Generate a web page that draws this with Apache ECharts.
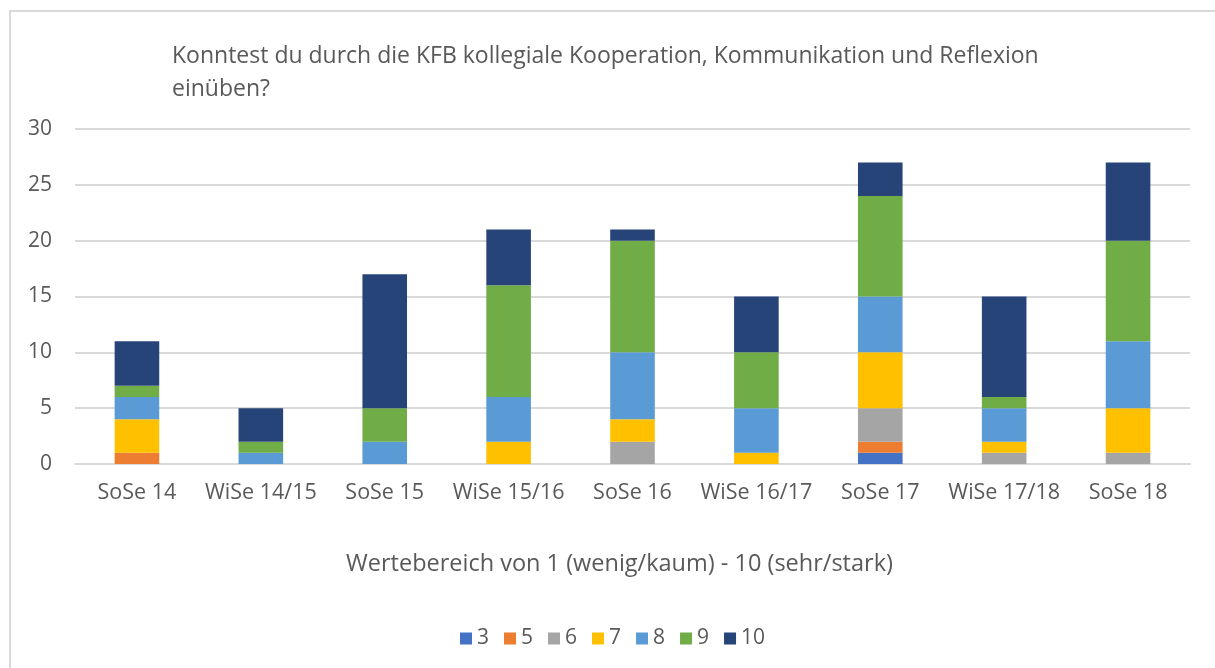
<!DOCTYPE html>
<html><head><meta charset="utf-8">
<script src="https://cdn.jsdelivr.net/npm/echarts@6/dist/echarts.min.js"></script>
<style>
html,body{margin:0;padding:0;background:#fff;overflow:hidden}
#frame{position:absolute;left:9px;top:10px;width:1230px;height:680px;border:2px solid #d9d9d9;box-sizing:border-box}
#c{position:absolute;left:0;top:0;width:1215px;height:668px}
</style></head><body>
<div id="frame"></div>
<div id="c"></div>
<script>
const titleText = 'Konntest du durch die KFB kollegiale Kooperation, Kommunikation und Reflexion\neinüben?';
const xName = 'Wertebereich von 1 (wenig/kaum) - 10 (sehr/stark)';
const categories = ['SoSe 14','WiSe 14/15','SoSe 15','WiSe 15/16','SoSe 16','WiSe 16/17','SoSe 17','WiSe 17/18','SoSe 18'];
const seriesNames = ['3','5','6','7','8','9','10'];
const v3  = [0,0,0,0,0,0,1,0,0];
const v5  = [1,0,0,0,0,0,1,0,0];
const v6  = [0,0,0,0,2,0,3,1,1];
const v7  = [3,0,0,2,2,1,5,1,4];
const v8  = [2,1,2,4,6,4,5,3,6];
const v9  = [1,1,3,10,10,5,9,1,9];
const v10 = [4,3,12,5,1,5,3,9,7];
const colors = ['#4472c4','#ed7d31','#a5a5a5','#ffc000','#5b9bd5','#70ad47','#264478'];
const values = [v3,v5,v6,v7,v8,v9,v10];
const font = 'Open Sans';
const chart = echarts.init(document.getElementById('c'));
chart.setOption({
  animation:false,
  color:colors,
  title:{text:titleText,left:167,top:35,textStyle:{fontFamily:font,fontSize:23,fontWeight:'normal',color:'#595959',lineHeight:33}},
  grid:{left:75,right:25,top:129,bottom:204},
  legend:{bottom:14,left:455,itemWidth:12,itemHeight:12,itemGap:15,icon:'rect',
    textStyle:{fontFamily:font,fontSize:21,color:'#595959'}},
  xAxis:{type:'category',data:categories,name:xName,nameLocation:'middle',nameGap:88,
    nameTextStyle:{fontFamily:font,fontSize:23.5,color:'#595959',padding:[0,26,0,0]},
    axisLine:{lineStyle:{color:'#d9d9d9',width:2}},axisTick:{show:false},
    axisLabel:{fontFamily:font,fontSize:21.5,color:'#595959',margin:18,interval:0}},
  yAxis:{type:'value',min:0,max:30,interval:5,
    axisLabel:{fontFamily:font,fontSize:21,color:'#595959',margin:23},
    splitLine:{lineStyle:{color:'#d9d9d9',width:2}},axisLine:{show:false}},
  series:seriesNames.map((n,i)=>({name:n,type:'bar',stack:'all',barWidth:'36%',data:values[i]}))
});
</script></body></html>
